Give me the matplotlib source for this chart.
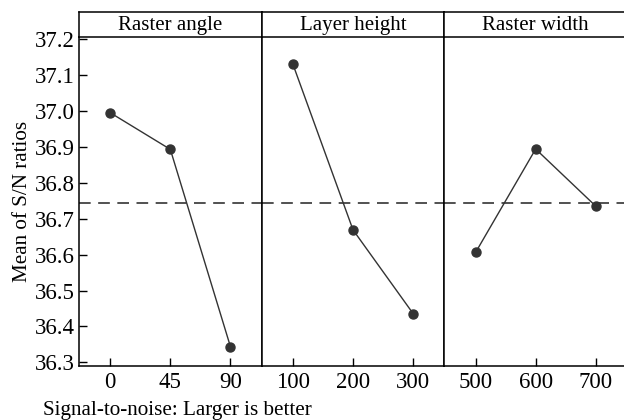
import numpy as np
import matplotlib.pyplot as plt

plt.rcParams['font.family'] = ['Liberation Serif', 'DejaVu Serif']

# Main effects for S/N ratios (larger is better)
factors = ["Raster angle", "Layer height", "Raster width"]
levels_angle = ["0", "45", "90"]
levels_height = ["100", "200", "300"]
levels_width = ["500", "600", "700"]
sn_angle = [36.995, 36.893, 36.344]
sn_height = [37.130, 36.669, 36.436]
sn_width = [36.606, 36.894, 36.735]

levels = [levels_angle, levels_height, levels_width]
means = [sn_angle, sn_height, sn_width]
grand_mean = np.mean(sn_angle + sn_height + sn_width)

W, H = 624, 420
fig = plt.figure(figsize=(W / 100, H / 100), dpi=100)

left, right = 79, 627
top_hdr, top_plot, bottom = 12, 37.3, 366
pw = (right - left) / 3
ink = "#333333"

for i in range(3):
    x0 = (left + i * pw) / W
    ax = fig.add_axes([x0, 1 - bottom / H, pw / W, (bottom - top_plot) / H])
    hd = fig.add_axes([x0, 1 - top_plot / H, pw / W, (top_plot - top_hdr) / H])

    xs = np.arange(len(levels[i]))
    ax.plot(xs, means[i], color=ink, lw=1.0, marker="o", ms=6.5,
            mfc=ink, mec=ink, zorder=3)
    ax.axhline(grand_mean, color=ink, lw=1.2, ls=(0, (7, 4.5)), zorder=2)

    ax.set_xlim(-0.52, 2.52)
    ax.set_ylim(36.29, 37.205)
    ax.set_xticks(xs)
    ax.set_xticklabels(levels[i])
    ax.tick_params(axis="x", direction="in", length=6, width=1.0,
                   labelsize=16.5, pad=4, colors="black")
    if i == 0:
        yt = np.arange(36.3, 37.21, 0.1)
        ax.set_yticks(yt)
        ax.set_yticklabels([f"{v:.1f}" for v in yt])
        ax.tick_params(axis="y", direction="in", length=6, width=1.0,
                       labelsize=16.5, pad=3)
        ax.set_ylabel("Mean of S/N ratios", fontsize=15.2, labelpad=2)
    else:
        ax.set_yticks([])
    ax.spines["top"].set_visible(False)
    for s in ("left", "right", "bottom"):
        ax.spines[s].set_linewidth(1.1)

    hd.set_xticks([])
    hd.set_yticks([])
    for s in hd.spines.values():
        s.set_linewidth(1.1)
    hd.text(0.5, 0.48, factors[i], ha="center", va="center",
            fontsize=15, transform=hd.transAxes)

fig.text(43 / W, 1 - 415 / H, "Signal-to-noise: Larger is better",
         ha="left", va="baseline", fontsize=15.2)

fig.savefig("out.png", dpi=100)
